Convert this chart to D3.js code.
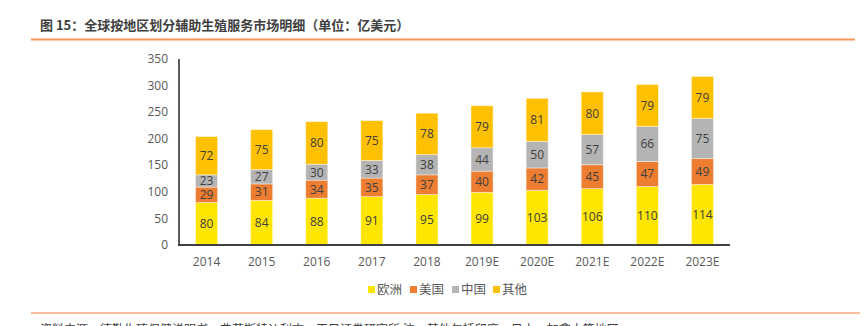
<!DOCTYPE html>
<html><head><meta charset="utf-8">
<script src="https://cdn.jsdelivr.net/npm/d3@7"></script>
<style>body{margin:0;background:#fff;}svg{display:block;font-family:"Noto Sans CJK SC","Microsoft YaHei",sans-serif;}</style>
</head><body><svg id="c" width="866" height="326"></svg>
<script>
const categories = ["2014","2015","2016","2017","2018","2019E","2020E","2021E","2022E","2023E"];
const europe = [80,84,88,91,95,99,103,106,110,114];
const usa    = [29,31,34,35,37,40,42,45,47,49];
const china  = [23,27,30,33,38,44,50,57,66,75];
const others = [72,75,80,75,78,79,81,80,79,79];
const seriesNames = ["欧洲","美国","中国","其他"];
const seriesColors = ["#FFE600","#ED7D31","#B4B4B4","#FFC000"];
const yTicks = [0,50,100,150,200,250,300,350];
const titleText = "图 15：全球按地区划分辅助生殖服务市场明细（单位：亿美元）";
const sourceText = "资料来源：德勤生殖保健说明书、弗若斯特沙利文、天风证券研究所 注：其他包括印度、日本、加拿大等地区";

const svg = d3.select("#c");
const seriesData = [europe, usa, china, others];
const rows = categories.map((c,i)=>{const o={cat:c}; seriesNames.forEach((s,j)=>o[s]=seriesData[j][i]); return o;});
const stack = d3.stack().keys(seriesNames)(rows);

const x = d3.scaleBand().domain(categories).range([179,730]).paddingInner(0.6).paddingOuter(0.3);
const y = d3.scaleLinear().domain([0,350]).range([245,59]);

// title
svg.append("text").attr("x",40).attr("y",30).attr("font-size",13).attr("font-weight","bold").attr("fill","#404040").text(titleText);
svg.append("line").attr("x1",31).attr("x2",855).attr("y1",39.5).attr("y2",39.5).attr("stroke","#F4935A").attr("stroke-width",2);

// y axis ticks
svg.append("g").selectAll("text").data(yTicks).join("text")
  .attr("x",168).attr("y",d=>y(d)).attr("dy","0.35em").attr("text-anchor","end")
  .attr("font-size",12).attr("fill","#595959").attr("font-family","'Open Sans',sans-serif").text(d=>d);

// bars
const g = svg.append("g");
stack.forEach((layer,j)=>{
  g.append("g").selectAll("rect").data(layer).join("rect")
    .attr("x",d=>x(d.data.cat)).attr("width",x.bandwidth())
    .attr("y",d=>y(d[1])).attr("height",d=>y(d[0])-y(d[1]))
    .attr("fill",seriesColors[j]).attr("stroke","#fff").attr("stroke-opacity",0.5).attr("stroke-width",0.8);
  g.append("g").selectAll("text").data(layer).join("text")
    .attr("x",d=>x(d.data.cat)+x.bandwidth()/2).attr("y",d=>(y(d[0])+y(d[1]))/2)
    .attr("dy","0.36em").attr("text-anchor","middle").attr("font-size",12)
    .attr("fill","#404040").attr("font-family","'Open Sans',sans-serif").text(d=>d[1]-d[0]);
});

// axes lines
svg.append("line").attr("x1",179).attr("x2",179).attr("y1",59).attr("y2",245.5).attr("stroke","#262626").attr("stroke-width",1.5);
svg.append("line").attr("x1",178).attr("x2",730).attr("y1",245).attr("y2",245).attr("stroke","#404040").attr("stroke-width",2);

// x labels
svg.append("g").selectAll("text").data(categories).join("text")
  .attr("x",d=>x(d)+x.bandwidth()/2).attr("y",262).attr("dy","0.35em").attr("text-anchor","middle")
  .attr("font-size",12).attr("fill","#595959").attr("font-family","'Open Sans',sans-serif").text(d=>d);

// legend
const legX = [368,410,452,493];
const leg = svg.append("g");
seriesNames.forEach((s,j)=>{
  leg.append("rect").attr("x",legX[j]).attr("y",286).attr("width",7).attr("height",7).attr("fill",seriesColors[j]);
  leg.append("text").attr("x",legX[j]+9).attr("y",290).attr("dy","0.35em").attr("font-size",12.5).attr("fill","#595959").text(s);
});

// bottom line & source
svg.append("line").attr("x1",31).attr("x2",860).attr("y1",313).attr("y2",313).attr("stroke","#F4A77C").attr("stroke-width",1.5);
svg.append("text").attr("x",40).attr("y",334).attr("font-size",12).attr("fill","#404040").text(sourceText);
</script></body></html>
